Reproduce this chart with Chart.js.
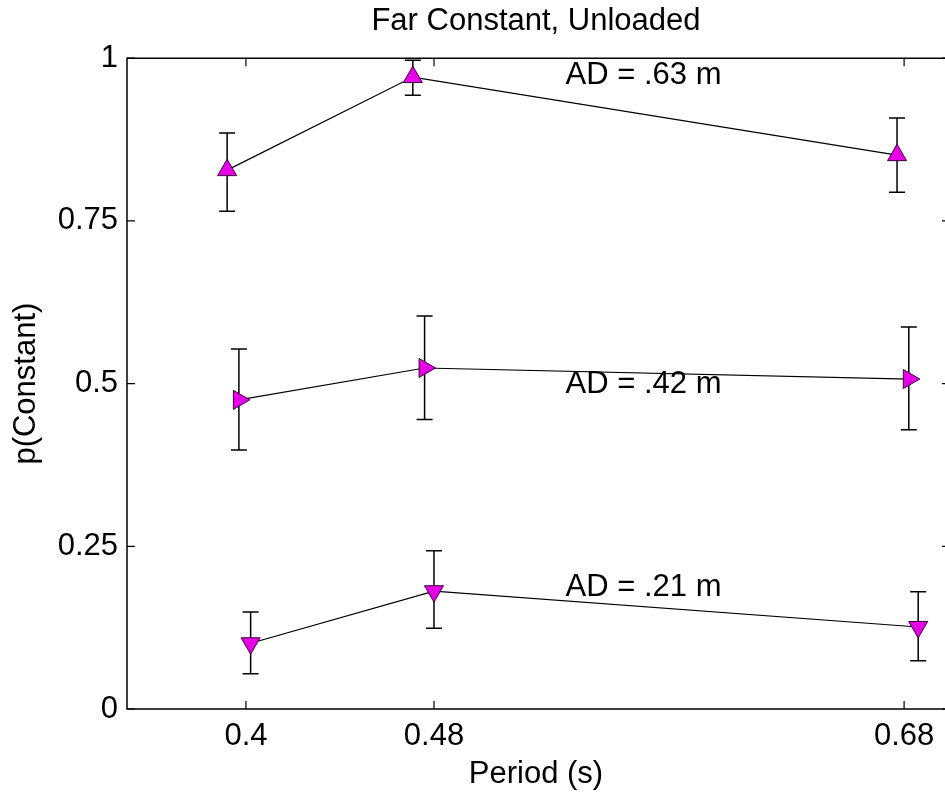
<!DOCTYPE html>
<html>
<head>
<meta charset="utf-8">
<script src="https://cdn.jsdelivr.net/npm/chart.js@4/dist/chart.umd.min.js"></script>
<style>
  html, body { margin: 0; padding: 0; background: #fff; overflow: hidden; }
  canvas { display: block; }
</style>
</head>
<body>
<canvas id="chart" width="945" height="794" style="width:945px;height:794px"></canvas>
<script>
// period ticks and the three AD series (x is slightly jittered, as in the figure)
const periodTicks = [0.4, 0.48, 0.68];
const probTicks = [0, 0.25, 0.5, 0.75, 1];

const farX = [0.392, 0.471, 0.677];
const farY = [0.828, 0.971, 0.851];
const farLo = [0.765, 0.943, 0.794];
const farHi = [0.885, 0.997, 0.908];

const midX = [0.397, 0.476, 0.682];
const midY = [0.475, 0.524, 0.507];
const midLo = [0.398, 0.445, 0.429];
const midHi = [0.553, 0.604, 0.587];

const nearX = [0.402, 0.480, 0.686];
const nearY = [0.101, 0.181, 0.126];
const nearLo = [0.054, 0.124, 0.074];
const nearHi = [0.149, 0.243, 0.180];

const adLabels = ['AD = .63 m', 'AD = .42 m', 'AD = .21 m'];
const adLabelX = [0.536, 0.536, 0.536];
const adLabelY = [0.974, 0.498, 0.187];

const FONT = '"Liberation Sans", Arial, Helvetica, sans-serif';
const MAGENTA = '#e600e6';

function pts(xs, ys, lo, hi) {
  return xs.map((x, i) => ({ x: x, y: ys[i], lo: lo[i], hi: hi[i] }));
}

function series(label, data, rotation) {
  return {
    label: label,
    data: data,
    showLine: true,
    borderColor: '#000',
    borderWidth: 1.2,
    pointStyle: 'triangle',
    pointRotation: rotation,
    pointRadius: 11,
    pointHoverRadius: 11,
    pointBackgroundColor: MAGENTA,
    pointBorderColor: '#3a003a',
    pointBorderWidth: 1,
  };
}

// error bars, drawn before the markers
const errorBars = {
  id: 'errorBars',
  beforeDatasetsDraw(chart) {
    const { ctx, scales: { x, y } } = chart;
    ctx.save();
    ctx.strokeStyle = '#000';
    ctx.lineWidth = 1.5;
    chart.data.datasets.forEach(ds => {
      ds.data.forEach(p => {
        const px = x.getPixelForValue(p.x);
        const top = y.getPixelForValue(p.hi);
        const bot = y.getPixelForValue(p.lo);
        ctx.beginPath();
        ctx.moveTo(px, top); ctx.lineTo(px, bot);
        ctx.moveTo(px - 8, top); ctx.lineTo(px + 8, top);
        ctx.moveTo(px - 8, bot); ctx.lineTo(px + 8, bot);
        ctx.stroke();
      });
    });
    ctx.restore();
  }
};

// MATLAB style axes (the right edge falls just outside the picture), inward ticks, AD labels
const boxAndText = {
  id: 'boxAndText',
  afterDatasetsDraw(chart) {
    const { ctx, chartArea: a, scales: { x, y } } = chart;
    ctx.save();
    ctx.strokeStyle = '#000';
    ctx.lineWidth = 1.5;
    ctx.beginPath();
    ctx.moveTo(a.right + 2, a.top);
    ctx.lineTo(a.left, a.top);
    ctx.lineTo(a.left, a.bottom);
    ctx.lineTo(a.right + 2, a.bottom);
    ctx.stroke();
    ctx.beginPath();
    periodTicks.forEach(v => {
      const px = x.getPixelForValue(v);
      ctx.moveTo(px, a.bottom); ctx.lineTo(px, a.bottom - 8);
      ctx.moveTo(px, a.top); ctx.lineTo(px, a.top + 8);
    });
    probTicks.forEach(v => {
      const py = y.getPixelForValue(v);
      ctx.moveTo(a.left, py); ctx.lineTo(a.left + 8, py);
      ctx.moveTo(a.right, py); ctx.lineTo(a.right - 3, py);
    });
    ctx.lineWidth = 1.2;
    ctx.stroke();

    ctx.fillStyle = '#000';
    ctx.font = '31px ' + FONT;
    ctx.textAlign = 'left';
    ctx.textBaseline = 'middle';
    adLabels.forEach((t, i) => {
      ctx.fillText(t, x.getPixelForValue(adLabelX[i]), y.getPixelForValue(adLabelY[i]));
    });
    ctx.restore();
  }
};

new Chart(document.getElementById('chart'), {
  type: 'scatter',
  data: {
    datasets: [
      series('AD = .63 m', pts(farX, farY, farLo, farHi), 0),
      series('AD = .42 m', pts(midX, midY, midLo, midHi), 90),
      series('AD = .21 m', pts(nearX, nearY, nearLo, nearHi), 180),
    ]
  },
  options: {
    responsive: false,
    maintainAspectRatio: false,
    animation: false,
    devicePixelRatio: 1,
    layout: { autoPadding: false, padding: { left: 0, right: 0, top: 0, bottom: 0 } },
    plugins: {
      legend: { display: false },
      tooltip: { enabled: false },
      title: {
        display: true,
        text: 'Far Constant, Unloaded',
        color: '#000',
        fullSize: false,
        font: { family: FONT, size: 31, weight: 'normal' },
        padding: { top: 3, bottom: 18 }
      }
    },
    scales: {
      x: {
        type: 'linear',
        min: 0.3494,
        max: 0.6974,
        afterBuildTicks: s => { s.ticks = periodTicks.map(v => ({ value: v })); },
        afterFit: s => { s.height = 85; s.paddingLeft = 0; s.paddingRight = 0; },
        grid: { display: false, drawTicks: false },
        border: { display: false },
        ticks: {
          color: '#000',
          padding: 9,
          font: { family: FONT, size: 31 },
          callback: v => String(v)
        },
        title: {
          display: true,
          text: 'Period (s)',
          color: '#000',
          font: { family: FONT, size: 31 },
          padding: { top: 0, bottom: 1 }
        }
      },
      y: {
        min: 0,
        max: 1,
        afterBuildTicks: s => { s.ticks = probTicks.map(v => ({ value: v })); },
        afterFit: s => { s.width = 127; s.paddingTop = 0; s.paddingBottom = 0; },
        grid: { display: false, drawTicks: false },
        border: { display: false },
        ticks: {
          color: '#000',
          padding: 9,
          font: { family: FONT, size: 31 },
          callback: v => String(v)
        },
        title: {
          display: true,
          text: 'p(Constant)',
          color: '#000',
          font: { family: FONT, size: 31 },
          padding: { top: 8, bottom: 0 }
        }
      }
    }
  },
  plugins: [errorBars, boxAndText]
});
</script>
</body>
</html>
